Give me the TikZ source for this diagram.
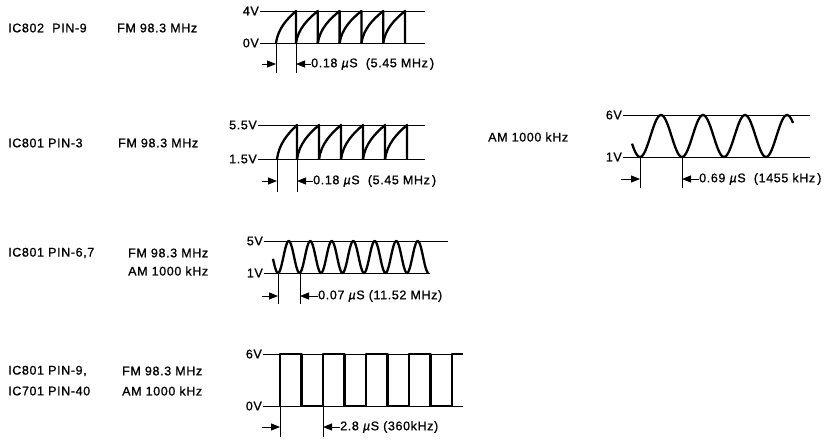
\documentclass[tikz,border=0pt]{standalone}
\usepackage{fontspec}
\setmainfont{Liberation Sans}[LetterSpace=5, FakeBold=1]
\usetikzlibrary{arrows.meta}

\tikzset{
  lbl/.style = {anchor=west, inner sep=0pt},
  volt/.style = {anchor=east, inner sep=1pt},
  level/.style = {line width=0.8pt},
  wave/.style = {line width=2.3pt, line join=round},
  tick/.style = {line width=0.7pt},
  dim/.style = {line width=0.9pt, -{Triangle[length=9pt,width=7pt]}}
}
\newcommand{\us}{\textit{µ}S}

\begin{document}
\begin{tikzpicture}[x=1pt, y=-1pt, font=\fontsize{12.5pt}{14pt}\selectfont]
    \useasboundingbox (0,0) rectangle (829,440);

    % IC802 pin 9
    \node [lbl] (pinA) at (8,28) {IC802\ \ PIN-9};
    \node [lbl] (fmA) at (117,28) {FM 98.3 MHz};
    \node [volt] (hiA) at (260,11) {4V};
    \node [volt] (loA) at (260,43) {0V};
    \draw [level] (hiA.east) -- (425,11);
    \draw [level] (loA.east) -- (425,43);
    \foreach \a/\b in {276/296, 296/317.8, 317.8/339.6, 339.6/361.4, 361.4/383.2, 383.2/405}
        \draw [wave] (\a,43) .. controls ({\a+0.1*(\b-\a)},28.6) and ({\a+0.55*(\b-\a)},19) .. (\b,11) -- (\b,43);
    \coordinate (pA) at (276,43);
    \coordinate (qA) at (296,43);
    \draw [tick] (pA) -- ++(0,30);
    \draw [tick] (qA) -- ++(0,30);
    \node [lbl] (tA) at (311,64) {0.18 \us\ \ (5.45 MHz\,)};
    \draw [dim] (262,64) -- (pA |- tA);
    \draw [dim] (tA.west) -- (qA |- tA);

    % IC801 pin 3, FM
    \node [lbl] (pinB) at (8,143) {IC801 PIN-3};
    \node [lbl] (fmB) at (118,143) {FM 98.3 MHz};
    \node [volt] (hiB) at (258,125) {5.5V};
    \node [volt] (loB) at (258,159) {1.5V};
    \draw [level] (hiB.east) -- (425,125);
    \draw [level] (loB.east) -- (425,159);
    \foreach \a/\b in {277/297, 297/319, 319/341, 341/363, 363/385, 385/407}
        \draw [wave] (\a,159) .. controls ({\a+0.1*(\b-\a)},143.7) and ({\a+0.55*(\b-\a)},133.5) .. (\b,125) -- (\b,159);
    \coordinate (pB) at (277,159);
    \coordinate (qB) at (297,159);
    \draw [tick] (pB) -- ++(0,33);
    \draw [tick] (qB) -- ++(0,33);
    \node [lbl] (tB) at (313,181) {0.18 \us\ \ (5.45 MHz\,)};
    \draw [dim] (262,181) -- (pB |- tB);
    \draw [dim] (tB.west) -- (qB |- tB);

    % IC801 pin 3, AM
    \node [lbl] (amC) at (488,137) {AM 1000 kHz};
    \node [volt] (hiC) at (623,115) {6V};
    \node [volt] (loC) at (623,157) {1V};
    \draw [level] (hiC.east) -- (810,115);
    \draw [level] (loC.east) -- (810,157);
    \draw [wave, domain=632:793, samples=120, variable=\x]
        plot ({\x}, {157 - 21*(1 - cos((\x-640)/42*360))});
    \coordinate (pC) at (640,157);
    \coordinate (qC) at (682,157);
    \draw [tick] (pC) -- ++(0,31);
    \draw [tick] (qC) -- ++(0,31);
    \node [lbl] (tC) at (699,179) {0.69 \us\ \ (1455 kHz\,)};
    \draw [dim] (621,179) -- (pC |- tC);
    \draw [dim] (tC.west) -- (qC |- tC);

    % IC801 pin 6,7
    \node [lbl] (pinD) at (8,253) {IC801 PIN-6,7};
    \node [lbl] (fmD) at (128,253) {FM 98.3 MHz};
    \node [lbl] (amD) at (128,271) {AM 1000 kHz};
    \node [volt] (hiD) at (264,241) {5V};
    \node [volt] (loD) at (264,273) {1V};
    \draw [level] (hiD.east) -- (448,241);
    \draw [level] (loD.east) -- (430,273);
    \draw [wave, domain=273:428.5, samples=200, variable=\x]
        plot ({\x}, {273 - 16*(1 - cos((\x-278)/21.5*360))});
    \coordinate (pD) at (278,273);
    \coordinate (qD) at (300,273);
    \draw [tick] (pD) -- ++(0,31);
    \draw [tick] (qD) -- ++(0,31);
    \node [lbl] (tD) at (318,296) {0.07 \us\ (11.52 MHz)};
    \draw [dim] (262,296) -- (pD |- tD);
    \draw [dim] (tD.west) -- (qD |- tD);

    % IC801 pin 9, IC701 pin 40
    \node [lbl] (pinE) at (8,371) {IC801 PIN-9,};
    \node [lbl] (pinF) at (8,391) {IC701 PIN-40};
    \node [lbl] (fmE) at (122,371) {FM 98.3 MHz};
    \node [lbl] (amE) at (122,391) {AM 1000 kHz};
    \node [volt] (hiE) at (263,354) {6V};
    \node [volt] (loE) at (263,406) {0V};
    \draw [level] (hiE.east) -- (463,354);
    \draw [level] (loE.east) -- (463,406);
    \draw [wave] (280,406) -- (280,354) -- (301.5,354) -- (301.5,406) -- (323,406) -- (323,354)
        -- (344.5,354) -- (344.5,406) -- (366,406) -- (366,354) -- (387.5,354) -- (387.5,406)
        -- (409,406) -- (409,354) -- (430.5,354) -- (430.5,406) -- (452,406) -- (452,354) -- (463,354);
    \coordinate (pE) at (280,406);
    \coordinate (qE) at (323,406);
    \draw [tick] (pE) -- ++(0,31);
    \draw [tick] (qE) -- ++(0,31);
    \node [lbl] (tE) at (340,427) {2.8 \us\ (360kHz)};
    \draw [dim] (262,427) -- (pE |- tE);
    \draw [dim] (tE.west) -- (qE |- tE);
\end{tikzpicture}
\end{document}
